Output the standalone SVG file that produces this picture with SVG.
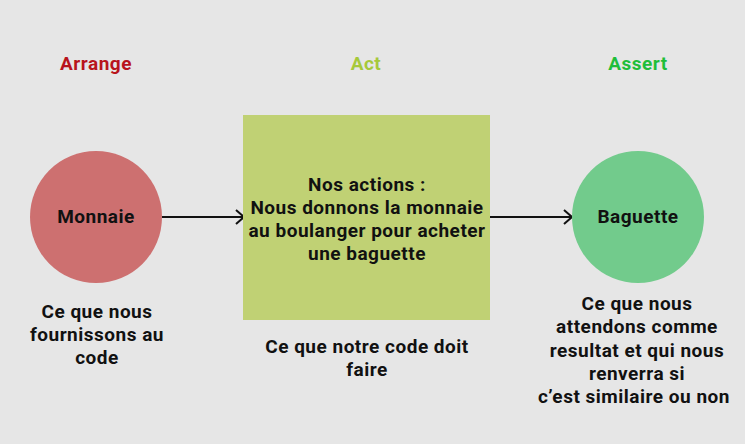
<svg xmlns="http://www.w3.org/2000/svg" width="745" height="444" viewBox="0 0 745 444">
<style>
text{font-family:Roboto,"Liberation Sans",sans-serif;font-weight:bold;font-size:19px;letter-spacing:0.5px;text-anchor:middle;fill:#111}
.conn{stroke:#111;stroke-width:2;fill:none}
</style>
<defs>
<marker id="chev" viewBox="0 0 10 16" refX="9" refY="8" markerWidth="10" markerHeight="16" markerUnits="userSpaceOnUse" orient="auto">
<path d="M1,1 L9,8 L1,15" stroke="#111" stroke-width="2" fill="none"/>
</marker>
</defs>
<rect width="745" height="444" fill="#e6e6e6"/>
<text x="96" y="70" style="fill:#b8141c">Arrange</text>
<text x="366" y="70" style="fill:#a6c93a">Act</text>
<text x="638" y="70" style="fill:#1fbe3a">Assert</text>
<g id="connectors">
<line class="conn" x1="162" y1="217" x2="244" y2="217" marker-end="url(#chev)"/>
<line class="conn" x1="490" y1="217" x2="572" y2="217" marker-end="url(#chev)"/>
</g>
<g id="monnaie">
<circle cx="96" cy="217" r="66" fill="#cd7070"/>
<text x="96" y="223">Monnaie</text>
<text x="97" y="318">Ce que nous</text>
<text x="97" y="341">fournissons au</text>
<text x="97" y="364">code</text>
</g>
<g id="actions">
<rect x="243" y="115" width="247" height="205" fill="#c0d174"/>
<text x="367" y="191">Nos actions :</text>
<text x="367" y="214">Nous donnons la monnaie</text>
<text x="367" y="237">au boulanger pour acheter</text>
<text x="367" y="260">une baguette</text>
<text x="367" y="353">Ce que notre code doit</text>
<text x="367" y="376">faire</text>
</g>
<g id="baguette">
<circle cx="638" cy="217" r="66" fill="#72cb8c"/>
<text x="638" y="223">Baguette</text>
<text x="637" y="310">Ce que nous</text>
<text x="637" y="333">attendons comme</text>
<text x="637" y="357">resultat et qui nous</text>
<text x="637" y="380">renverra si</text>
<text x="634" y="403">c’est similaire ou non</text>
</g>
</svg>
